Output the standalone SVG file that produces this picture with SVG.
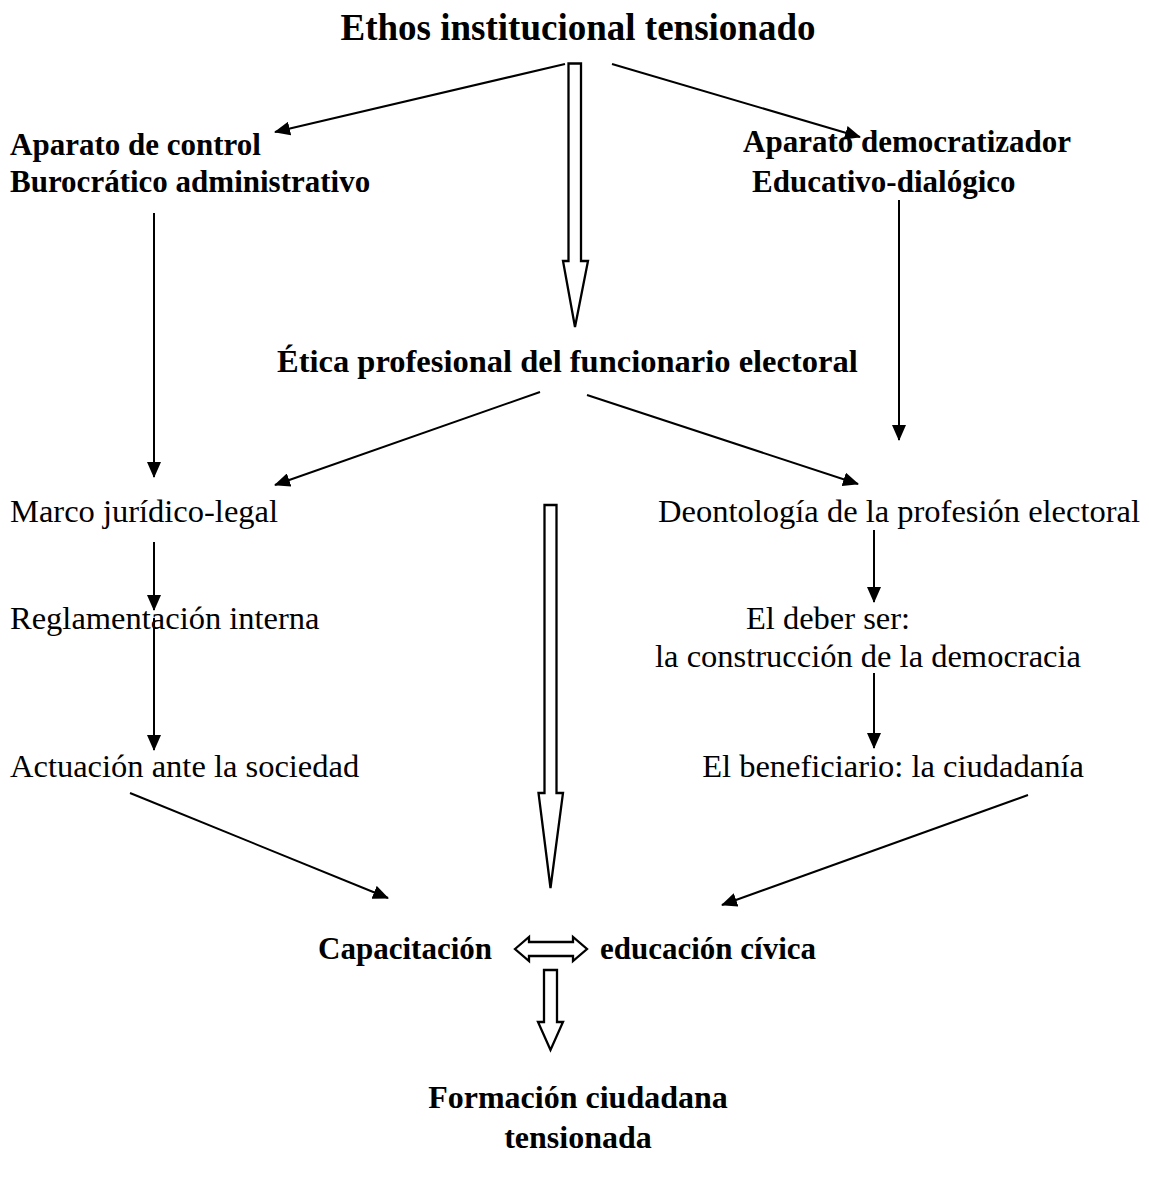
<svg xmlns="http://www.w3.org/2000/svg" width="1149" height="1178" viewBox="0 0 1149 1178">
<style>
text{font-family:"Liberation Serif","Times New Roman",serif;fill:#000}
.t{font-size:37px;font-weight:bold}
.b{font-size:31px;font-weight:bold}
.r{font-size:32.5px}
.ln{stroke:#000;stroke-width:2;fill:none}
.ho{stroke:#000;stroke-width:2.3;fill:#fff;stroke-linejoin:miter}
</style>
<defs>
<marker id="ah" markerWidth="16" markerHeight="14" refX="15" refY="7" orient="auto" markerUnits="userSpaceOnUse">
<path d="M0,0 L16,7 L0,14 Z" fill="#000"/>
</marker>
</defs>
<rect width="1149" height="1178" fill="#fff"/>
<g id="n-title"><text class="t" x="578" y="40" text-anchor="middle">Ethos institucional tensionado</text></g>
<g id="n-control"><text class="b" x="10" y="155">Aparato de control</text><text class="b" x="10" y="192">Burocrático administrativo</text></g>
<g id="n-democ"><text class="b" x="743" y="152">Aparato democratizador</text><text class="b" x="752" y="192">Educativo-dialógico</text></g>
<g id="n-etica"><text class="b" x="277" y="372" style="font-size:32.5px">Ética profesional del funcionario electoral</text></g>
<g id="n-marco"><text class="r" x="10" y="522">Marco jurídico-legal</text></g>
<g id="n-deon"><text class="r" x="1140" y="522" text-anchor="end">Deontología de la profesión electoral</text></g>
<g id="n-regl"><text class="r" x="10" y="629">Reglamentación interna</text></g>
<g id="n-deber"><text class="r" x="828" y="629" text-anchor="middle">El deber ser:</text><text class="r" x="868" y="667" text-anchor="middle">la construcción de la democracia</text></g>
<g id="n-actu"><text class="r" x="10" y="777">Actuación ante la sociedad</text></g>
<g id="n-benef"><text class="r" x="893" y="777" text-anchor="middle">El beneficiario: la ciudadanía</text></g>
<g id="n-capac"><text class="b" x="492" y="959" text-anchor="end">Capacitación</text></g>
<g id="n-educ"><text class="b" x="600" y="959">educación cívica</text></g>
<g id="n-form"><text class="b" x="578" y="1108" text-anchor="middle" style="font-size:32px">Formación ciudadana</text><text class="b" x="578" y="1148" text-anchor="middle" style="font-size:32px">tensionada</text></g>
<g id="connectors">
<line class="ln" x1="565" y1="64" x2="275" y2="132" marker-end="url(#ah)"/>
<line class="ln" x1="612" y1="64" x2="860" y2="137" marker-end="url(#ah)"/>
<line class="ln" x1="154" y1="213" x2="154" y2="477" marker-end="url(#ah)"/>
<line class="ln" x1="899" y1="200" x2="899" y2="440" marker-end="url(#ah)"/>
<line class="ln" x1="540" y1="392" x2="275" y2="485" marker-end="url(#ah)"/>
<line class="ln" x1="587" y1="395" x2="858" y2="484" marker-end="url(#ah)"/>
<line class="ln" x1="154" y1="542" x2="154" y2="610" marker-end="url(#ah)"/>
<line class="ln" x1="154" y1="618" x2="154" y2="750" marker-end="url(#ah)"/>
<line class="ln" x1="874" y1="530" x2="874" y2="602" marker-end="url(#ah)"/>
<line class="ln" x1="874" y1="673" x2="874" y2="748" marker-end="url(#ah)"/>
<line class="ln" x1="130" y1="793" x2="388" y2="898" marker-end="url(#ah)"/>
<line class="ln" x1="1028" y1="795" x2="722" y2="905" marker-end="url(#ah)"/>
<polygon class="ho" points="568.5,63.5 581,63.5 581,261 588,261 575,327 563,261 568.5,261"/>
<polygon class="ho" points="544.5,505 556.5,505 556.5,793 563,793 550.5,888 538.5,793 544.5,793"/>
<polygon class="ho" points="544,970 557,970 557,1022 563,1022 550.5,1050 538,1022 544,1022"/>
<polygon class="ho" points="515,949 529,937 529,942 573,942 573,937 587,949 573,961 573,956 529,956 529,961"/>
</g>
</svg>
